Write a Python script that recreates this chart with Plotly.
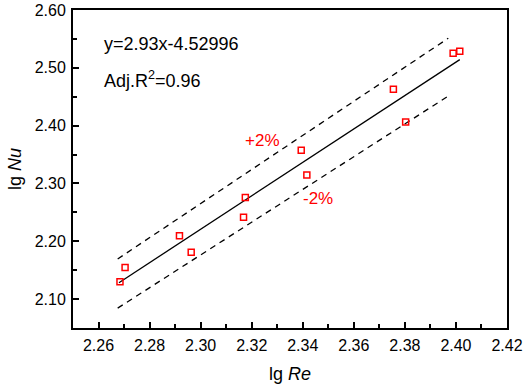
import plotly.graph_objects as go
import numpy as np

lg_re = [2.2684, 2.2704, 2.2917, 2.2963, 2.3168, 2.3175, 2.3394, 2.3416, 2.3755, 2.3803, 2.3989, 2.4015]
lg_nu = [2.130, 2.1545, 2.2097, 2.181, 2.2414, 2.2759, 2.3576, 2.3148, 2.463, 2.4063, 2.5252, 2.5286]

fit_slope = 2.89
fit_intercept = -4.4262
fit_x_range = [2.268, 2.4015]
band_x_range = [2.2675, 2.397]
band_pct = 0.02

x_ticks = [2.26, 2.28, 2.30, 2.32, 2.34, 2.36, 2.38, 2.40, 2.42]
y_ticks = [2.10, 2.20, 2.30, 2.40, 2.50, 2.60]

X_RANGE = [2.25, 2.42]
Y_RANGE = [2.05, 2.60]

FONT = "Liberation Sans"

fx = np.array(fit_x_range)
fy = fit_slope * fx + fit_intercept
bx = np.array(band_x_range)
by = fit_slope * bx + fit_intercept

fig = go.Figure()
fig.add_trace(go.Scatter(x=bx, y=by * (1 + band_pct), mode="lines",
                         line=dict(color="black", width=1.3, dash="6px,5px"), showlegend=False))
fig.add_trace(go.Scatter(x=bx, y=by * (1 - band_pct), mode="lines",
                         line=dict(color="black", width=1.3, dash="6px,5px"), showlegend=False))
fig.add_trace(go.Scatter(x=fx, y=fy, mode="lines",
                         line=dict(color="black", width=1.3), showlegend=False))
fig.add_trace(go.Scatter(x=lg_re, y=lg_nu, mode="markers",
                         marker=dict(symbol="square-open", size=6, color="#ff0000",
                                     line=dict(width=1.5, color="#ff0000")),
                         showlegend=False))

fig.add_annotation(x=0.066, y=0.893, xref="paper", yref="paper", xanchor="left", yanchor="middle",
                   text="y=2.93x-4.52996", showarrow=False, font=dict(size=18, color="black", family=FONT))
fig.add_annotation(x=0.066, y=0.783, xref="paper", yref="paper", xanchor="left", yanchor="middle",
                   text="Adj.R<sup>2</sup>=0.96", showarrow=False, font=dict(size=18, color="black", family=FONT))
fig.add_annotation(x=2.3244, y=2.375, xref="x", yref="y", xanchor="center", yanchor="middle",
                   text="+2%", showarrow=False, font=dict(size=17, color="#ff0000", family=FONT))
fig.add_annotation(x=2.346, y=2.2747, xref="x", yref="y", xanchor="center", yanchor="middle",
                   text="-2%", showarrow=False, font=dict(size=17, color="#ff0000", family=FONT))

axis_common = dict(showgrid=False, zeroline=False, showline=True, linecolor="black", linewidth=2,
                   mirror=True, ticks="inside", ticklen=6, tickwidth=2, tickcolor="black",
                   automargin=False, ticklabelstandoff=2,
                   tickfont=dict(size=16, color="black", family=FONT))

fig.update_xaxes(range=X_RANGE, tickvals=x_ticks, ticktext=[f"{v:.2f}" for v in x_ticks],
                 minor=dict(ticks="inside", ticklen=4, tickwidth=2, tickcolor="black",
                            dtick=0.01, tick0=2.25),
                 title=dict(text="lg <i>Re</i>", font=dict(size=18, color="black", family=FONT), standoff=14),
                 **axis_common)
fig.update_yaxes(range=Y_RANGE, tickvals=y_ticks, ticktext=[f"{v:.2f}" for v in y_ticks],
                 minor=dict(ticks="inside", ticklen=4, tickwidth=2, tickcolor="black",
                            dtick=0.05, tick0=2.05),
                 title=dict(text="lg <i>Nu</i>", font=dict(size=18, color="black", family=FONT), standoff=8),
                 **axis_common)

fig.update_layout(width=526, height=388, margin=dict(l=73, r=19, t=10, b=60),
                  plot_bgcolor="white", paper_bgcolor="white", font=dict(family=FONT))

fig.write_html("out.html", config={"displayModeBar": False},
               post_script="document.body.style.margin='0';document.body.style.padding='0';")
